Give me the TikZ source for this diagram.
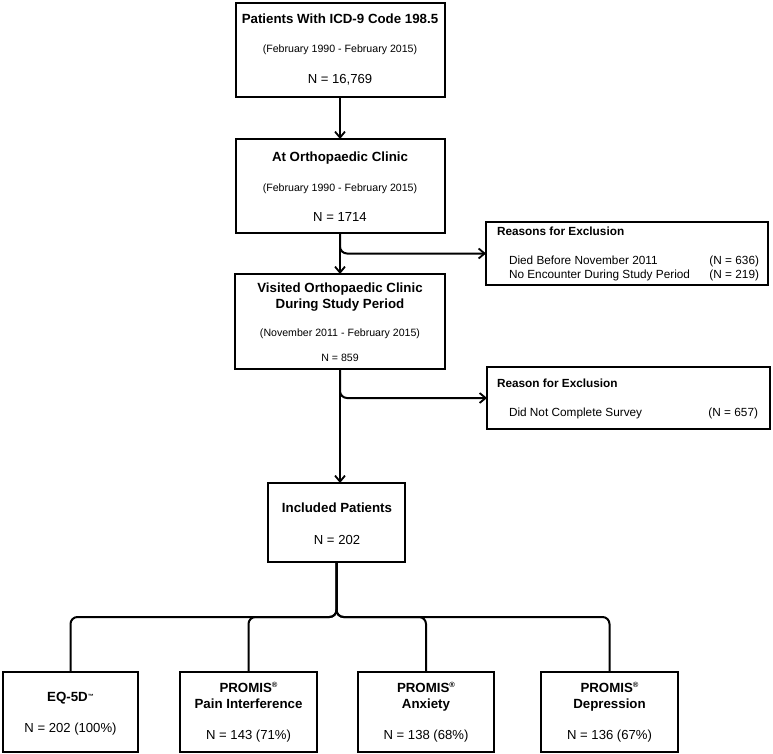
\documentclass[tikz,border=0pt]{standalone}
\usepackage{fontspec}
\setmainfont{Liberation Sans}
\usetikzlibrary{arrows.meta}
\newcommand\mytitle{\fontsize{13.3}{15.5}\selectfont\bfseries}
\newcommand\mysub{\fontsize{10.6}{12.5}\selectfont}
\newcommand\myn{\fontsize{13.1}{15.5}\selectfont}
\newcommand\mysmalln{\fontsize{10.6}{12.5}\selectfont}
\newcommand\myex{\fontsize{11.8}{14}\selectfont}
\newcommand\myexb{\fontsize{11.8}{14}\selectfont\bfseries}
\newcommand\myreg{\raisebox{4.5pt}{\fontsize{7.5}{8}\selectfont\bfseries ®}}
\begin{document}
\begin{tikzpicture}[x=1pt,y=-1pt,
  box/.style={draw, line width=2pt, rectangle, inner sep=0pt, outer sep=0pt},
  txt/.style={inner sep=0pt, outer sep=0pt, anchor=base},
  txtw/.style={inner sep=0pt, outer sep=0pt, anchor=base west},
  txte/.style={inner sep=0pt, outer sep=0pt, anchor=base east},
  conn/.style={line width=2pt},
  arr/.style={line width=2pt, -{Straight Barb[length=6pt,width=10pt,line width=1.8pt]}}]
\useasboundingbox (0,0) rectangle (773,754);
\fill[white] (0,0) rectangle (773,754);
% main boxes
\node[box, minimum width=209pt, minimum height=94pt] (b1) at (340,50) {};
\node[box, minimum width=209pt, minimum height=94pt] (b2) at (340,186) {};
\node[box, minimum width=210pt, minimum height=95pt] (b3) at (340,321.5) {};
\node[box, minimum width=282pt, minimum height=63pt] (x1) at (627,253.5) {};
\node[box, minimum width=283pt, minimum height=62pt] (x2) at (628.5,398) {};
\node[box, minimum width=137pt, minimum height=79pt] (inc) at (336.5,522.5) {};
\node[box, minimum width=135pt, minimum height=80pt] (e1) at (70.5,712) {};
\node[box, minimum width=137pt, minimum height=80pt] (e2) at (248.5,712) {};
\node[box, minimum width=136pt, minimum height=80pt] (e3) at (426,712) {};
\node[box, minimum width=137pt, minimum height=80pt] (e4) at (609.5,712) {};
% texts box 1
\node[txt] (t1a) at (340,24) {\mytitle Patients With ICD-9 Code 198.5};
\node[txt] (t1b) at (340,53) {\mysub (February 1990 - February 2015)};
\node[txt] (t1c) at (340,83.5) {\myn N = 16,769};
% box 2
\node[txt] (t2a) at (340,162) {\mytitle At Orthopaedic Clinic};
\node[txt] (t2b) at (340,191.5) {\mysub (February 1990 - February 2015)};
\node[txt] (t2c) at (340,222) {\myn N = 1714};
% box 3
\node[txt] (t3a) at (340,292) {\mytitle Visited Orthopaedic Clinic};
\node[txt] (t3b) at (340,308) {\mytitle During Study Period};
\node[txt] (t3c) at (340,336.5) {\mysub (November 2011 - February 2015)};
\node[txt] (t3d) at (340,361) {\mysmalln N = 859};
% exclusion 1
\node[txtw] (x1a) at (497,235) {\myexb Reasons for Exclusion};
\node[txtw] (x1b) at (509,264) {\myex Died Before November 2011};
\node[txtw] (x1c) at (509,278) {\myex No Encounter During Study Period};
\node[txte] (x1d) at (759,264) {\myex (N = 636)};
\node[txte] (x1e) at (759,278) {\myex (N = 219)};
% exclusion 2
\node[txtw] (x2a) at (497,387.5) {\myexb Reason for Exclusion};
\node[txtw] (x2b) at (509,416) {\myex Did Not Complete Survey};
\node[txte] (x2c) at (758,416) {\myex (N = 657)};
% included
\node[txt] (ia) at (337,512) {\mytitle Included Patients};
\node[txt] (ib) at (337,544) {\myn N = 202};
% bottom boxes
\node[txt] (e1a) at (70.5,701) {\mytitle EQ-5D\raisebox{3pt}{\fontsize{6}{7}\selectfont\bfseries ™}};
\node[txt] (e1b) at (70.5,732) {\myn N = 202 (100\%)};
\node[txt] (e2a) at (248.5,692) {\mytitle PROMIS\myreg};
\node[txt] (e2b) at (248.5,708) {\mytitle Pain Interference};
\node[txt] (e2c) at (248.5,739) {\myn N = 143 (71\%)};
\node[txt] (e3a) at (426,692) {\mytitle PROMIS\myreg};
\node[txt] (e3b) at (426,708) {\mytitle Anxiety};
\node[txt] (e3c) at (426,739) {\myn N = 138 (68\%)};
\node[txt] (e4a) at (609.5,692) {\mytitle PROMIS\myreg};
\node[txt] (e4b) at (609.5,708) {\mytitle Depression};
\node[txt] (e4c) at (609.5,739) {\myn N = 136 (67\%)};
% connectors
\draw[arr] (b1.south) -- (b2.north);
\draw[arr] (b2.south) -- (b3.north);
\draw[arr, rounded corners=7pt] (b2.south) |- (x1.west);
\draw[arr, rounded corners=7pt] (b3.south) |- (x2.west);
\draw[arr] (b3.south) -- (b3.south |- inc.north);
\coordinate (j) at (inc.south |- 0,617);
\draw[conn, rounded corners=7pt] (inc.south) -- (j) -| (e1.north);
\draw[conn, rounded corners=7pt] (inc.south) -- (j) -| (e2.north);
\draw[conn, rounded corners=7pt] (inc.south) -- (j) -| (e3.north);
\draw[conn, rounded corners=7pt] (inc.south) -- (j) -| (e4.north);
\end{tikzpicture}
\end{document}
